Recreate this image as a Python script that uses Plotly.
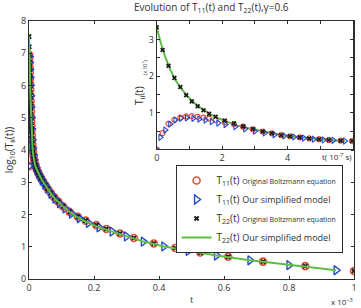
import plotly.graph_objects as go

# ---------------- main plot data (t in 1e-3, log10 T) ----------------
t_boltz = [0, 0.0005, 0.001, 0.0015, 0.002, 0.0025, 0.003, 0.0035, 0.004, 0.0045,
           0.005, 0.0055, 0.006, 0.0065, 0.007, 0.0075, 0.008, 0.0087, 0.0095, 0.0104,
           0.0114, 0.0125, 0.0138, 0.0153, 0.017, 0.019, 0.0215, 0.0245, 0.028, 0.032,
           0.037, 0.043, 0.05, 0.058, 0.067, 0.078, 0.09, 0.105, 0.125, 0.15,
           0.174, 0.207, 0.238, 0.28, 0.323, 0.384, 0.45, 0.527, 0.613, 0.72,
           0.85, 1.0]
logT11_boltz = [3.5, 6.95, 6.85, 6.7, 6.55, 6.4, 6.22, 6.05, 5.88, 5.7,
                5.53, 5.36, 5.2, 5.04, 4.89, 4.75, 4.61, 4.46, 4.32, 4.18,
                4.05, 3.93, 3.82, 3.72, 3.63, 3.54, 3.46, 3.38, 3.3, 3.22,
                3.13, 3.03, 2.92, 2.8, 2.67, 2.53, 2.4, 2.25, 2.08, 1.93,
                1.81, 1.67, 1.55, 1.41, 1.27, 1.1, 0.96, 0.82, 0.69, 0.54,
                0.4, 0.25]
logT22_boltz = [7.52, 7.2, 6.95, 6.7, 6.55, 6.4, 6.22, 6.05, 5.88, 5.7,
                5.53, 5.36, 5.2, 5.04, 4.89, 4.75, 4.61, 4.46, 4.32, 4.18,
                4.05, 3.93, 3.82, 3.72, 3.63, 3.54, 3.46, 3.38, 3.3, 3.22,
                3.13, 3.03, 2.92, 2.8, 2.67, 2.53, 2.4, 2.25, 2.08, 1.93,
                1.81, 1.67, 1.55, 1.41, 1.27, 1.1, 0.96, 0.82, 0.69, 0.54,
                0.4, 0.25]

t_simp = [0, 0.0006, 0.0013, 0.002, 0.0028, 0.0036, 0.0045, 0.0055, 0.0066, 0.0078,
          0.0093, 0.011, 0.013, 0.015, 0.018, 0.021, 0.025, 0.03, 0.035, 0.041,
          0.049, 0.057, 0.068, 0.08, 0.094, 0.111, 0.131, 0.155, 0.183, 0.216,
          0.256, 0.30, 0.352, 0.415, 0.49, 0.577, 0.68, 0.80, 0.945]
logT11_simp = [3.5, 6.9, 6.72, 6.5, 6.26, 6.0, 5.68, 5.33, 5.0, 4.66,
               4.32, 4.06, 3.85, 3.7, 3.56, 3.46, 3.36, 3.25, 3.16, 3.05,
               2.92, 2.8, 2.64, 2.49, 2.35, 2.19, 2.03, 1.88, 1.74, 1.6,
               1.47, 1.32, 1.16, 1.01, 0.87, 0.73, 0.58, 0.43, 0.27]
logT22_simp = [7.52, 7.0, 6.72, 6.5, 6.26, 6.0, 5.68, 5.33, 5.0, 4.66,
               4.32, 4.06, 3.85, 3.7, 3.56, 3.46, 3.36, 3.25, 3.16, 3.05,
               2.92, 2.8, 2.64, 2.49, 2.35, 2.19, 2.03, 1.88, 1.74, 1.6,
               1.47, 1.32, 1.16, 1.01, 0.87, 0.73, 0.58, 0.43, 0.27]

# ---------------- inset data (t in 1e-7 s, T in 1e7) ----------------
t_in_boltz = [0, 0.18, 0.36, 0.54, 0.72, 0.9, 1.07, 1.25, 1.43, 1.6,
              1.8, 2.08, 2.36, 2.64, 2.94, 3.24, 3.52, 3.8, 4.07, 4.37,
              4.66, 4.96, 5.26, 5.62, 5.97]
T22_in_boltz = [3.33, 2.71, 2.28, 1.95, 1.70, 1.48, 1.31, 1.18, 1.07, 0.97,
                0.89, 0.79, 0.71, 0.63, 0.56, 0.49, 0.44, 0.39, 0.36, 0.33,
                0.30, 0.28, 0.26, 0.24, 0.23]
T11_in_boltz = [0.0, 0.45, 0.70, 0.81, 0.87, 0.90, 0.91, 0.89, 0.87, 0.84,
                0.80, 0.74, 0.69, 0.62, 0.55, 0.49, 0.44, 0.39, 0.36, 0.33,
                0.30, 0.28, 0.26, 0.24, 0.23]
t_in_simp = [0, 0.11, 0.26, 0.41, 0.57, 0.74, 0.92, 1.12, 1.3, 1.49,
             1.68, 1.88, 2.1, 2.4, 2.7, 3.0, 3.3, 3.6, 3.9, 4.2,
             4.5, 4.8, 5.1, 5.4, 5.75]
T11_in_simp = [0.0, 0.33, 0.53, 0.69, 0.80, 0.85, 0.86, 0.85, 0.83, 0.80,
               0.76, 0.72, 0.68, 0.62, 0.56, 0.50, 0.45, 0.40, 0.37, 0.34,
               0.31, 0.28, 0.26, 0.25, 0.23]
T22_in_simp = [3.33, 2.95, 2.52, 2.18, 1.90, 1.67, 1.47, 1.29, 1.16, 1.04,
               0.94, 0.85, 0.77, 0.67, 0.60, 0.54, 0.48, 0.43, 0.38, 0.35,
               0.32, 0.29, 0.27, 0.25, 0.23]

main_xticks = [0, 0.2, 0.4, 0.6, 0.8, 1]
main_xticktext = ['0', '0.2', '0.4', '0.6', '0.8', '1']
main_yticks = [0, 1, 2, 3, 4, 5, 6, 7, 8]
in_xticks = [0, 2, 4]
in_yticks = [1, 2, 3]

RED = 'rgb(236,78,58)'
BLUE = 'rgb(35,75,200)'
BLACK = 'rgb(30,30,30)'
GREEN = 'rgb(96,190,70)'
AX = 'rgb(45,45,45)'
TXT = 'rgb(50,50,50)'
FONT = 'Open Sans'

fig = go.Figure()

# main traces
fig.add_trace(go.Scatter(
    x=t_boltz, y=logT11_boltz, mode='markers', xaxis='x', yaxis='y',
    marker=dict(symbol='circle-open', size=7, color=RED, line=dict(width=1.6, color=RED)),
    name="T<sub>11</sub>(t) <span style='font-size:7px'>Original Boltzmann equation</span>"))
fig.add_trace(go.Scatter(
    x=t_simp, y=logT11_simp, mode='markers', xaxis='x', yaxis='y',
    marker=dict(symbol='triangle-right-open', size=8, color=BLUE, line=dict(width=1.4, color=BLUE)),
    name="T<sub>11</sub>(t) <span style='font-size:9px'>Our simplified model</span>"))
fig.add_trace(go.Scatter(
    x=t_boltz, y=logT22_boltz, mode='markers', xaxis='x', yaxis='y',
    marker=dict(symbol='x', size=5, color=BLACK, line=dict(width=0)),
    name="T<sub>22</sub>(t) <span style='font-size:7px'>Original Boltzmann equation</span>"))
fig.add_trace(go.Scatter(
    x=t_simp, y=logT22_simp, mode='lines', xaxis='x', yaxis='y',
    line=dict(color=GREEN, width=2),
    name="T<sub>22</sub>(t) <span style='font-size:9px'>Our simplified model</span>"))

# inset traces
fig.add_trace(go.Scatter(
    x=t_in_simp, y=T22_in_simp, mode='lines', xaxis='x2', yaxis='y2', showlegend=False,
    line=dict(color=GREEN, width=2)))
fig.add_trace(go.Scatter(
    x=t_in_boltz, y=T11_in_boltz, mode='markers', xaxis='x2', yaxis='y2', showlegend=False,
    marker=dict(symbol='circle-open', size=5, color=RED, line=dict(width=1.2, color=RED))))
fig.add_trace(go.Scatter(
    x=t_in_simp, y=T11_in_simp, mode='markers', xaxis='x2', yaxis='y2', showlegend=False,
    marker=dict(symbol='triangle-right-open', size=5.5, color=BLUE, line=dict(width=1.1, color=BLUE))))
fig.add_trace(go.Scatter(
    x=t_in_boltz, y=T22_in_boltz, mode='markers', xaxis='x2', yaxis='y2', showlegend=False,
    marker=dict(symbol='x', size=4.5, color=BLACK, line=dict(width=0))))

axis_common = dict(showline=True, linecolor=AX, linewidth=1, mirror='ticks',
                   ticks='inside', ticklen=3, tickcolor=AX, tickwidth=1,
                   showgrid=False, zeroline=False,
                   tickfont=dict(family=FONT, size=9, color=TXT))

fig.update_layout(
    width=361, height=308,
    margin=dict(l=29, r=4, t=21, b=29, pad=0),
    paper_bgcolor='white', plot_bgcolor='white',
    font=dict(family=FONT, size=9, color=TXT),
    xaxis=dict(domain=[0, 1], anchor='y', range=[0, 1], tickmode='array',
               tickvals=main_xticks, ticktext=main_xticktext, **axis_common),
    yaxis=dict(domain=[0, 1], anchor='x', range=[0, 8], tickmode='array',
               tickvals=main_yticks, **axis_common),
    xaxis2=dict(domain=[0.393, 0.997], anchor='y2', range=[0, 6], tickmode='array',
                tickvals=in_xticks,
                minor=dict(tick0=0, dtick=1, ticks='inside', ticklen=3, tickcolor=AX, showgrid=False),
                **axis_common),
    yaxis2=dict(domain=[0.502, 1.0], anchor='x2', range=[0, 3.5], tickmode='array',
                tickvals=in_yticks,
                minor=dict(tick0=0, dtick=0.5, ticks='inside', ticklen=3, tickcolor=AX, showgrid=False),
                **axis_common),
    showlegend=True,
    legend=dict(x=0.451, y=0.442, xanchor='left', yanchor='top',
                bgcolor='white', bordercolor=AX, borderwidth=1,
                font=dict(family=FONT, size=10, color=TXT),
                tracegroupgap=0),
    annotations=[
        dict(text="Evolution of T<sub>11</sub>(t) and T<sub>22</sub>(t),γ=0.6",
             xref='paper', yref='paper', x=0.561, y=1.054, xanchor='center', yanchor='middle',
             showarrow=False, font=dict(family=FONT, size=10, color=TXT)),
        dict(text="log<sub>10</sub>(T<sub>ii</sub>(t))", textangle=-90,
             xref='paper', yref='paper', x=-0.061, y=0.5, xanchor='center', yanchor='middle',
             showarrow=False, font=dict(family=FONT, size=10, color=TXT)),
        dict(text="t", xref='paper', yref='paper', x=0.5, y=-0.081,
             xanchor='center', yanchor='middle', showarrow=False,
             font=dict(family=FONT, size=9, color=TXT)),
        dict(text="x 10<sup>−3</sup>", xref='paper', yref='paper', x=0.963, y=-0.089,
             xanchor='center', yanchor='middle', showarrow=False,
             font=dict(family=FONT, size=8, color=TXT)),
        dict(text="T<sub>ii</sub>(t)", textangle=-90, xref='paper', yref='paper',
             x=0.338, y=0.713, xanchor='center', yanchor='middle', showarrow=False,
             font=dict(family=FONT, size=10, color=TXT)),
        dict(text="(x 10<sup>7</sup>)", textangle=-90, xref='paper', yref='paper',
             x=0.357, y=0.818, xanchor='center', yanchor='middle', showarrow=False,
             font=dict(family=FONT, size=5, color=TXT)),
        dict(text="t( 10<sup>-7</sup> s)", xref='paper', yref='paper',
             x=0.948, y=0.473, xanchor='center', yanchor='middle', showarrow=False,
             font=dict(family=FONT, size=8, color=TXT)),
    ],
)

fig.write_html("out.html")
